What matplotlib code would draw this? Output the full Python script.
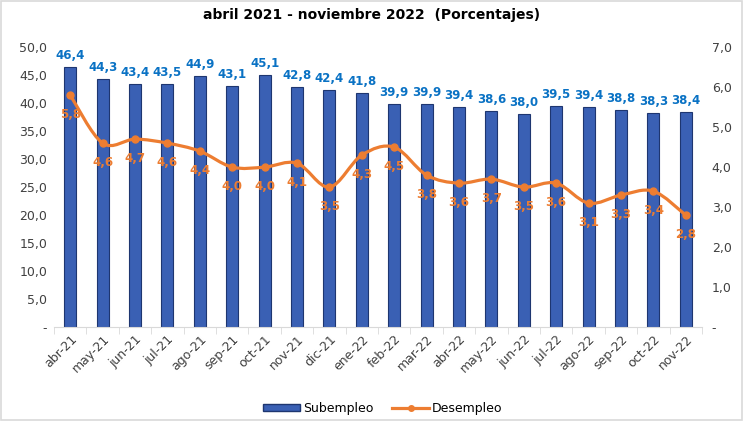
import matplotlib.pyplot as plt
from matplotlib.path import Path
from matplotlib.patches import PathPatch, Rectangle
from matplotlib.lines import Line2D

# Datos del grafico
meses = ['abr-21', 'may-21', 'jun-21', 'jul-21', 'ago-21', 'sep-21', 'oct-21', 'nov-21', 'dic-21', 'ene-22',
         'feb-22', 'mar-22', 'abr-22', 'may-22', 'jun-22', 'jul-22', 'ago-22', 'sep-22', 'oct-22', 'nov-22']
subempleo = [46.4, 44.3, 43.4, 43.5, 44.9, 43.1, 45.1, 42.8, 42.4, 41.8,
             39.9, 39.9, 39.4, 38.6, 38.0, 39.5, 39.4, 38.8, 38.3, 38.4]
desempleo = [5.8, 4.6, 4.7, 4.6, 4.4, 4.0, 4.0, 4.1, 3.5, 4.3,
             4.5, 3.8, 3.6, 3.7, 3.5, 3.6, 3.1, 3.3, 3.4, 2.8]

AZUL = '#3A60B4'
AZUL_BORDE = '#1E3670'
AZUL_TXT = '#0A72C4'
NARANJA = '#ED7D31'

def coma(v):
    return f"{v:.1f}".replace('.', ',')

fig = plt.figure(figsize=(7.43, 4.21), dpi=100)
plt.rcParams['font.family'] = ['DejaVu Sans']

# marco exterior gris claro
fig.patches.append(Rectangle((0.002, 0.002), 0.996, 0.996, transform=fig.transFigure,
                             fill=False, edgecolor='#D9D9D9', linewidth=1.2))

ax = fig.add_axes([0.0727, 0.223, 0.872, 0.665])
ax2 = ax.twinx()

x = list(range(len(meses)))
ax.bar(x, subempleo, width=0.37, color=AZUL, edgecolor=AZUL_BORDE, linewidth=0.8, zorder=2)
for xi, v in zip(x, subempleo):
    ax.annotate(coma(v), (xi, v), xytext=(0, 5), textcoords='offset pixels',
                ha='center', va='bottom', color=AZUL_TXT, fontsize=8.5, fontweight='bold')

ax.set_xlim(-0.5, len(meses) - 0.5)
ax.set_ylim(0, 50)
ax.set_yticks(range(0, 51, 5))
ax.set_yticklabels(['-'] + [coma(v) for v in range(5, 51, 5)], fontsize=9, color='#404040')
ax.set_xticks(x)
ax.set_xticklabels(meses, rotation=45, ha='right', rotation_mode='anchor', fontsize=9, color='#404040')
ax.tick_params(axis='y', length=0, pad=5)
ax.tick_params(axis='x', length=0, pad=4)
# marcas entre categorias
ax.set_xticks([i - 0.5 for i in range(len(meses) + 1)], minor=True)
ax.tick_params(axis='x', which='minor', length=5, color='#D9D9D9')
for s in ['top', 'left', 'right']:
    ax.spines[s].set_visible(False)
ax.spines['bottom'].set_color('#D9D9D9')

# linea suavizada de desempleo (curvas de Bezier al estilo Excel)
n = len(desempleo)
verts = [(x[0], desempleo[0])]
codes = [Path.MOVETO]
for i in range(n - 1):
    x0, y0 = x[max(i - 1, 0)], desempleo[max(i - 1, 0)]
    x1, y1 = x[i], desempleo[i]
    x2, y2 = x[i + 1], desempleo[i + 1]
    x3, y3 = x[min(i + 2, n - 1)], desempleo[min(i + 2, n - 1)]
    c1 = (x1 + (x2 - x0) / 6, y1 + (y2 - y0) / 6)
    c2 = (x2 - (x3 - x1) / 6, y2 - (y3 - y1) / 6)
    verts += [c1, c2, (x2, y2)]
    codes += [Path.CURVE4] * 3
ax2.add_patch(PathPatch(Path(verts, codes), facecolor='none', edgecolor=NARANJA, linewidth=2.3, zorder=3))
ax2.plot(x, desempleo, 'o', color=NARANJA, markersize=5, zorder=4)
for xi, v in zip(x, desempleo):
    ax2.annotate(coma(v), (xi, v), xytext=(0, -19), textcoords='offset pixels',
                 ha='center', va='center', color=NARANJA, fontsize=8.5, fontweight='bold')

ax2.set_ylim(0, 7)
ax2.set_yticks(range(0, 8))
ax2.set_yticklabels(['-'] + [coma(v) for v in range(1, 8)], fontsize=9, color='#404040')
ax2.tick_params(axis='y', length=0, pad=7)
for s in ['top', 'left', 'right', 'bottom']:
    ax2.spines[s].set_visible(False)

fig.text(0.5, 0.965, 'abril 2021 - noviembre 2022  (Porcentajes)', ha='center', va='center',
         fontsize=10, fontweight='bold', color='black')

handles = [Rectangle((0, 0), 1, 1, facecolor=AZUL, edgecolor=AZUL_BORDE),
           Line2D([], [], color=NARANJA, linewidth=2.3, marker='o', markersize=4)]
fig.legend(handles, ['Subempleo', 'Desempleo'], loc='center', bbox_to_anchor=(0.515, 0.03),
           ncol=2, frameon=False, fontsize=9, handlelength=3, handleheight=0.5, columnspacing=1.5,
           handletextpad=0.2)

fig.savefig('out.png', dpi=100)
